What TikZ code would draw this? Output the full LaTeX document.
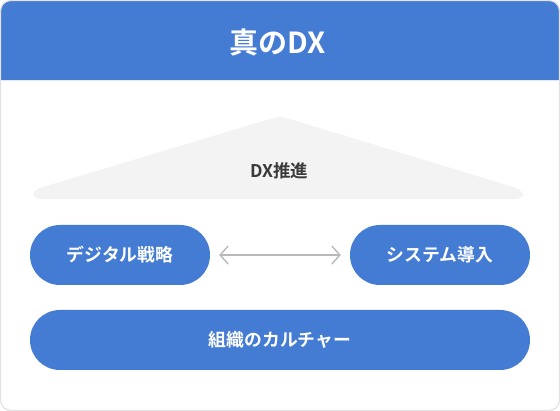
\documentclass[tikz,border=0pt]{standalone}
\usepackage{fontspec}
\setmainfont{Noto Sans CJK JP}[BoldFont={Noto Sans CJK JP Bold}]
\usetikzlibrary{arrows.meta}
\definecolor{dxblue}{HTML}{457CD3}
\definecolor{cardline}{HTML}{E2E2E2}
\definecolor{roof}{HTML}{F3F3F3}
\definecolor{roofText}{HTML}{3A3A3A}
\definecolor{arrowGray}{HTML}{B9B9B9}
\begin{document}
\begin{tikzpicture}[x=1pt,y=-1pt,
  pill/.style={fill=dxblue, text=white, rounded corners=29.9pt, minimum height=60pt, inner sep=0pt, font=\fontsize{17.8}{21}\selectfont\bfseries},
  link/.style={draw=arrowGray, line width=1.4pt, {Straight Barb[length=8pt,width=18pt,line width=1.4pt]}-{Straight Barb[length=8pt,width=18pt,line width=1.4pt]}, shorten <=9pt, shorten >=9pt}]
\useasboundingbox (0,0) rectangle (560,411);
% card
\begin{scope}
\clip[rounded corners=10pt] (0.5,0.5) rectangle (559.5,410.5);
\fill[white] (0,0) rectangle (560,411);
\fill[dxblue] (0,0) rectangle (560,80);
\draw[cardline!60!dxblue!30, line width=1pt] (0,80.5) -- (560,80.5);
\end{scope}
\draw[cardline, line width=1.2pt, rounded corners=10pt] (0.6,0.6) rectangle (559.4,410.4);
\node[text=white, font=\fontsize{29}{33}\selectfont\bfseries] (title) at (278,43) {真のDX};
% roof
\fill[roof, rounded corners=7pt] (33,199) -- (33,190) -- (280,116) -- (523,190) -- (523,199) -- cycle;
\node[text=roofText, font=\fontsize{17.5}{20}\selectfont\bfseries] (roofLabel) at (279,171) {DX推進};
% pills
\node[pill, minimum width=180pt] (strategy) at (120,255) {デジタル戦略};
\node[pill, minimum width=180pt] (system) at (440,255) {システム導入};
\node[pill, minimum width=500pt] (culture) at (280,340) {組織のカルチャー};
\draw[link] (strategy) -- (system);
\end{tikzpicture}
\end{document}
